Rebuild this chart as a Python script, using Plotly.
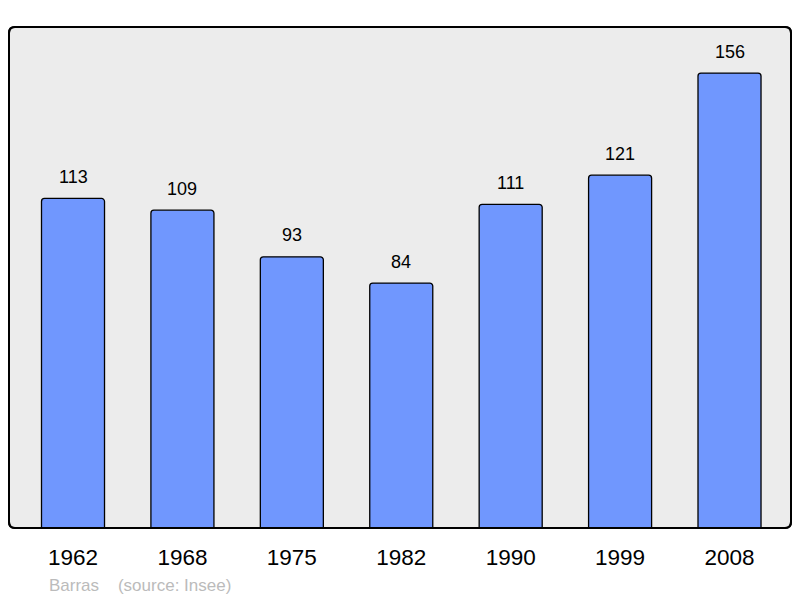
import plotly.graph_objects as go

years = ["1962", "1968", "1975", "1982", "1990", "1999", "2008"]
population = [113, 109, 93, 84, 111, 121, 156]
source_text = "Barras    (source: Insee)"

W, H = 800, 598
L, R, T, B = 9, 9, 27, 70
pw, ph = W - L - R, H - T - B

xs = list(range(len(years)))

fig = go.Figure()
fig.add_trace(go.Bar(
    x=xs, y=population, width=0.576,
    marker=dict(color="#7097fe", line=dict(color="#000000", width=1.3), cornerradius=3),
    hoverinfo="skip",
))

for x, v in zip(xs, population):
    fig.add_annotation(x=x, y=v, text=str(v), showarrow=False, yshift=21.5,
                       font=dict(size=18, color="#000000"), yanchor="middle")

# rounded frame
rx, ry = 6 / pw, 6 / ph
path = (f"M {rx},0 L {1-rx},0 Q 1,0 1,{ry} L 1,{1-ry} Q 1,1 {1-rx},1 "
        f"L {rx},1 Q 0,1 0,{1-ry} L 0,{ry} Q 0,0 {rx},0 Z")
fig.add_shape(type="path", path=path, xref="x domain", yref="y domain",
              fillcolor="#ececec", line=dict(color="#000000", width=2), layer="below")
fig.add_shape(type="path", path=path, xref="x domain", yref="y domain",
              fillcolor="rgba(0,0,0,0)", line=dict(color="#000000", width=2), layer="above")

fig.add_annotation(x=(47 - L) / pw, y=(H - B - 585) / ph, xref="paper", yref="paper",
                   text=source_text, showarrow=False, xanchor="left", yanchor="middle",
                   font=dict(size=17, color="#bbbbbb"))

fig.update_layout(
    width=W, height=H,
    margin=dict(l=L, r=R, t=T, b=B, autoexpand=False),
    paper_bgcolor="#ffffff", plot_bgcolor="rgba(0,0,0,0)",
    font=dict(family="Liberation Sans, Arial, sans-serif"),
    showlegend=False,
    xaxis=dict(range=[-0.585, 6.562], tickvals=xs, ticktext=years,
               showgrid=False, zeroline=False, showline=False, automargin=False,
               ticks="outside", ticklen=9, tickcolor="rgba(0,0,0,0)",
               tickfont=dict(size=22.5, color="#000000"), fixedrange=True),
    yaxis=dict(range=[0, 171.8], showgrid=False, zeroline=False, showline=False,
               automargin=False, showticklabels=False, fixedrange=True),
)

fig.write_html("out.html", config={"displayModeBar": False},
               post_script="document.body.style.margin='0';document.body.style.overflow='hidden';")
